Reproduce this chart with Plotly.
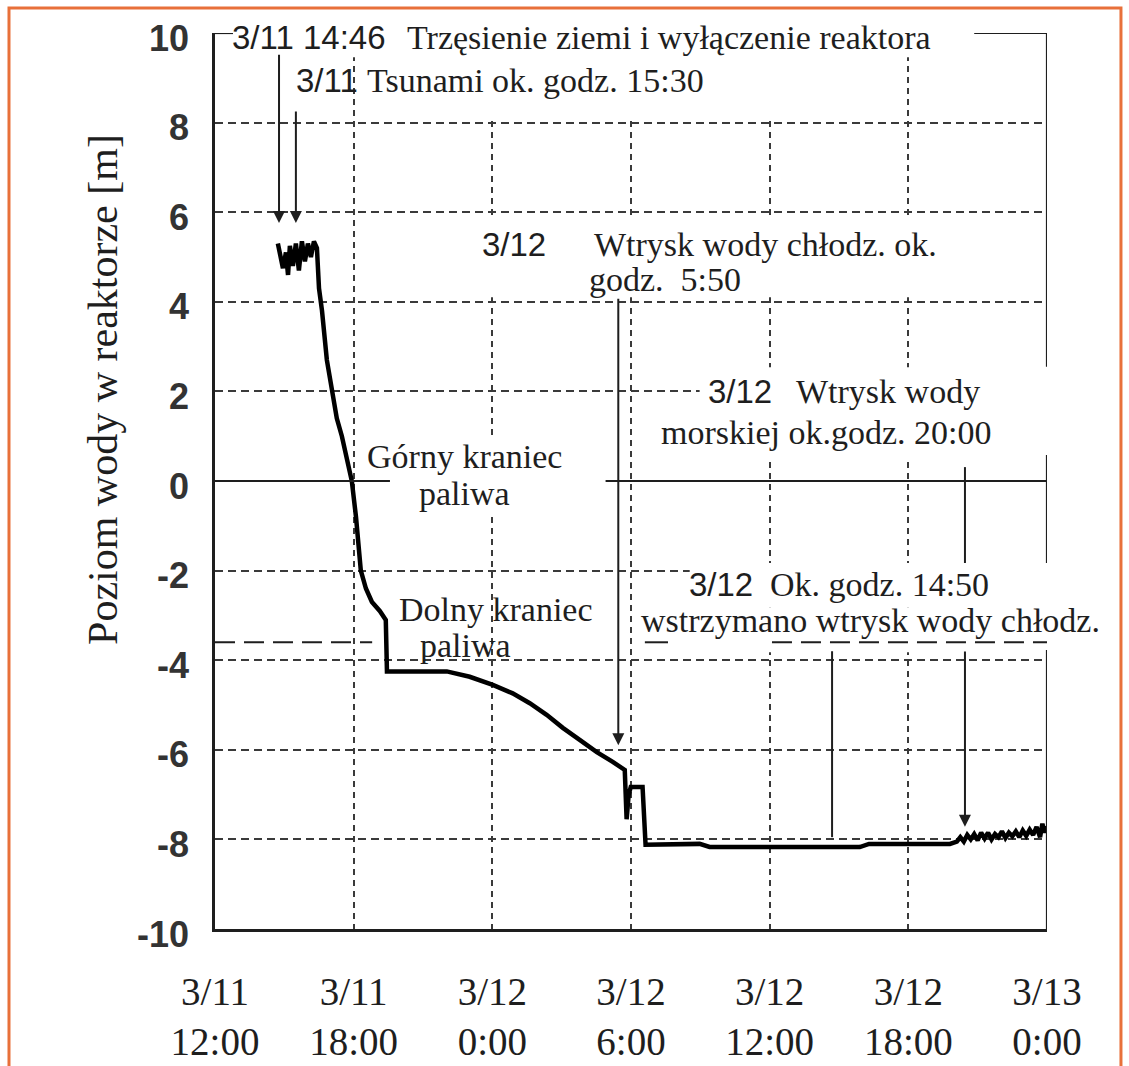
import plotly.graph_objects as go

# ---------------- data ----------------
# hours elapsed since 3/11 12:00
elapsed_h = [2.72, 2.85, 2.94, 3.07, 3.16, 3.24, 3.37, 3.50, 3.63, 3.76, 3.89, 4.02,
             4.15, 4.28, 4.41, 4.50, 4.63, 4.84, 5.06, 5.27, 5.49, 5.71, 5.92, 6.10,
             6.23, 6.31, 6.53, 6.79, 7.13, 7.39, 7.44, 8.86, 10.03, 11.02, 12.02, 12.88,
             13.62, 14.35, 15.05, 15.78, 16.52, 17.21, 17.73, 17.81, 17.90, 17.99, 18.50,
             18.63, 20.97, 21.40, 27.90, 28.30, 31.80, 32.10, 32.25, 32.40, 32.55, 32.70,
             32.85, 33.00, 33.15, 33.30, 33.45, 33.60, 33.75, 33.90, 34.05, 34.20, 34.35,
             34.50, 34.65, 34.80, 34.95, 35.10, 35.25, 35.40, 35.55, 35.70, 35.80, 35.90,
             35.97]
# water level in reactor [m]
level_m = [5.30, 5.00, 4.75, 5.10, 4.60, 5.25, 4.80, 5.30, 4.70, 5.35, 4.90, 5.30,
           5.00, 5.35, 5.20, 4.30, 3.80, 2.70, 2.00, 1.40, 1.00, 0.50, 0.00, -0.80,
           -1.50, -2.00, -2.40, -2.70, -2.90, -3.10, -4.25, -4.25, -4.25, -4.37, -4.55, -4.74,
           -4.96, -5.22, -5.51, -5.78, -6.05, -6.27, -6.45, -7.55, -7.00, -6.83, -6.83,
           -8.12, -8.10, -8.17, -8.17, -8.10, -8.10, -8.05, -7.95, -8.05, -7.90, -8.00,
           -7.88, -8.02, -7.85, -7.98, -7.85, -8.00, -7.88, -7.95, -7.82, -7.97, -7.85,
           -7.93, -7.82, -7.95, -7.80, -7.92, -7.78, -7.90, -7.72, -7.95, -7.65, -7.85,
           -7.70]

x_tick_hours = [0, 6, 12, 18, 24, 30, 36]
x_tick_labels = ["3/11<br>12:00", "3/11<br>18:00", "3/12<br>0:00", "3/12<br>6:00",
                 "3/12<br>12:00", "3/12<br>18:00", "3/13<br>0:00"]
x_grid_hours = [6, 12, 18, 24, 30]
y_tick_values = [-10, -8, -6, -4, -2, 0, 2, 4, 6, 8, 10]
y_tick_labels = [str(v) for v in y_tick_values]
y_grid_values = [-8, -6, -4, -2, 2, 4, 6, 8]

y_title = "Poziom wody w reaktorze [m]"

# event times (hours since 3/11 12:00)
t_quake = 2.77      # 3/11 14:46
t_tsunami = 3.50    # 3/11 15:30
t_fresh = 17.45     # 3/12 ~5:50 (as drawn)
t_stop = 26.70      # 3/12 ~14:50 (as drawn)
t_sea = 32.45       # 3/12 ~20:00 (as drawn)
fuel_top = 0.0
fuel_bottom = -3.6

SERIF = "Liberation Serif, Times New Roman, serif"
SANS = "Liberation Sans, Arial, sans-serif"
INK = "#1e1e1e"
GRID = "#3a3a3a"

fig = go.Figure()
fig.add_trace(go.Scatter(x=elapsed_h, y=level_m, mode="lines",
                         line=dict(color="black", width=4.5), showlegend=False,
                         hoverinfo="skip"))

shapes = []

def mask(x0, x1, y0, y1):
    shapes.append(dict(type="rect", xref="x", yref="y", x0=x0, x1=x1, y0=y0, y1=y1,
                       fillcolor="white", line=dict(width=0), layer="between"))

def seg(x0, y0, x1, y1, dash="solid", width=2.2):
    shapes.append(dict(type="line", xref="x", yref="y", x0=x0, y0=y0, x1=x1, y1=y1,
                       line=dict(color=INK, width=width, dash=dash), layer="above"))

# white masks hiding the grid behind texts
mask(10.6, 25.3, 8.1, 10.2)
mask(0.78, 32.9, 9.46, 10.2)
mask(11.0, 36.5, 4.1, 5.93)
mask(20.97, 36.5, 0.51, 2.54)
mask(20.54, 36.5, -2.83, -1.83)
mask(18.37, 36.5, -3.82, -2.83)
mask(7.57, 16.9, -0.69, 1.0)

# top bracket and right border
seg(0, 10, 0.78, 10)
seg(32.85, 10, 36, 10)
seg(36, 10, 36, 2.55)
seg(36, 0.58, 36, -1.83)
seg(36, -3.77, 36, -10)

# top of fuel (solid) and bottom of fuel (long dash)
seg(0, fuel_top, 7.57, fuel_top, width=2)
seg(16.9, fuel_top, 36, fuel_top, width=2)
seg(0, fuel_bottom, 6.8, fuel_bottom, dash="20px,9px", width=2)
seg(18.6, fuel_bottom, 19.6, fuel_bottom, width=2)
seg(24.1, fuel_bottom, 36, fuel_bottom, dash="20px,9px", width=2)

# event lines without arrowheads
seg(t_stop, fuel_bottom - 0.2, t_stop, -7.95, width=2)
seg(t_sea, 0.31, t_sea, -1.83, width=2)

fig.update_layout(shapes=shapes)

# arrows
def arrow(x, y_tail, y_tip):
    fig.add_annotation(x=x, y=y_tip, ax=x, ay=y_tail, xref="x", yref="y",
                       axref="x", ayref="y", text="", showarrow=True,
                       arrowhead=2, arrowsize=1.2, arrowwidth=2, arrowcolor=INK)

arrow(t_quake, 9.55, 5.76)
arrow(t_tsunami, 8.28, 5.76)
arrow(t_fresh, 4.1, -5.9)
arrow(t_sea, -3.77, -7.72)

# texts
def label(x, y, text, font=SERIF, size=34):
    fig.add_annotation(x=x, y=y, xref="x", yref="y", text=text, showarrow=False,
                       xanchor="left", yanchor="middle", borderpad=0,
                       font=dict(family=font, size=size, color=INK))

label(0.71, 9.89, "3/11 14:46", SANS, 33)
label(8.28, 9.89, "Trzęsienie ziemi i wyłączenie reaktora")
label(3.44, 8.93, "3/11", SANS, 33)
label(6.55, 8.93, "Tsunami ok. godz. 15:30")
label(11.52, 5.29, "3/12", SANS, 33)
label(16.37, 5.29, "Wtrysk wody chłodz. ok.")
label(16.15, 4.49, "godz.  5:50")
label(21.29, 1.99, "3/12", SANS, 33)
label(25.10, 1.99, "Wtrysk wody")
label(19.26, 1.09, "morskiej ok.godz. 20:00")
label(20.47, -2.32, "3/12", SANS, 33)
label(23.97, -2.32, "Ok. godz. 14:50")
label(18.40, -3.12, "wstrzymano wtrysk wody chłodz.")
label(6.55, 0.55, "Górny kraniec")
label(8.80, -0.28, "paliwa")
label(7.93, -2.86, "Dolny kraniec")
label(8.84, -3.68, "paliwa")

# y-axis title
fig.add_annotation(x=-0.1346, y=0.6016, xref="paper", yref="paper", text=y_title,
                   textangle=-90, showarrow=False, xanchor="center", yanchor="middle",
                   font=dict(family=SERIF, size=42, color=INK))

# orange frame of the picture
fig.add_shape(type="rect", xref="paper", yref="paper", x0=-0.2476, x1=1.0889,
              y0=-0.22, y1=1.028, line=dict(color="#E8703A", width=3),
              fillcolor="rgba(0,0,0,0)", layer="above")

fig.update_layout(
    width=1129, height=1066,
    margin=dict(l=215, r=82, t=33, b=137, autoexpand=False),
    paper_bgcolor="white", plot_bgcolor="white",
    showlegend=False,
    xaxis=dict(range=[0, 36], tickmode="array", tickvals=x_tick_hours,
               ticktext=x_tick_labels, showgrid=False, zeroline=False,
               automargin=False,
               showline=True, linecolor=INK, linewidth=2.5, ticks="",
               ticklabelstandoff=26,
               tickfont=dict(family=SERIF, size=39, color=INK),
               minor=dict(tickmode="array", tickvals=x_grid_hours, showgrid=True,
                          gridcolor=GRID, gridwidth=2, griddash="6px,5px", ticks="")),
    yaxis=dict(range=[-10, 10], tickmode="array", tickvals=y_tick_values,
               ticktext=y_tick_labels, showgrid=False, zeroline=False,
               automargin=False,
               showline=True, linecolor=INK, linewidth=2.5, ticks="",
               ticklabelstandoff=16, ticklabelshift=5,
               tickfont=dict(family=SANS, size=36, color="#333333", weight="bold"),
               minor=dict(tickmode="array", tickvals=y_grid_values, showgrid=True,
                          gridcolor=GRID, gridwidth=2, griddash="8px,5px", ticks="")),
)

fig.write_html("out.html", config={"displayModeBar": False},
               post_script="document.body.style.margin='0px';document.body.style.overflow='hidden';")
